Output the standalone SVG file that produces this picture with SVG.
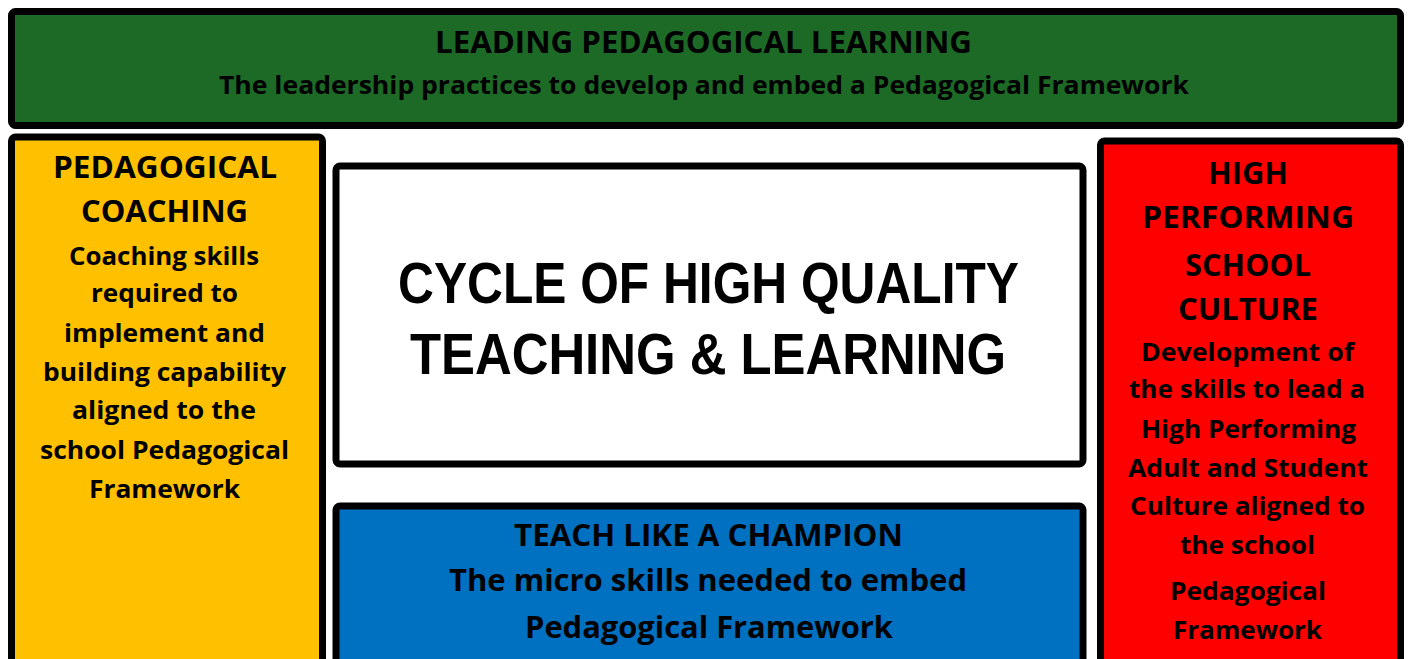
<svg xmlns="http://www.w3.org/2000/svg" width="1409" height="659" viewBox="0 0 1409 659">
<style>
.box{stroke:#000;stroke-width:7;}
.t{font-family:"Open Sans","Noto Sans","Liberation Sans",sans-serif;font-weight:700;fill:#000;text-anchor:middle;}
.h{font-size:31px;}
.b{font-size:25px;}
.big{font-family:"Liberation Sans Narrow","Liberation Sans",Arial,sans-serif;font-weight:700;font-size:58px;fill:#000;text-anchor:middle;}
</style>
<rect width="1409" height="659" fill="#fff"/>
<g id="leading">
<rect class="box" x="11.5" y="11.5" width="1389" height="114" rx="4" fill="#1C6A25"/>
<text class="t h" x="703.5" y="53" textLength="537" lengthAdjust="spacingAndGlyphs">LEADING PEDAGOGICAL LEARNING</text>
<text class="t b" x="704" y="94" textLength="970" lengthAdjust="spacingAndGlyphs">The leadership practices to develop and embed a Pedagogical Framework</text>
</g>
<g id="coaching">
<rect class="box" x="11.5" y="137" width="311" height="540" rx="4" fill="#FFC000"/>
<text class="t h" x="165" y="178" textLength="224" lengthAdjust="spacingAndGlyphs">PEDAGOGICAL</text>
<text class="t h" x="164.5" y="222" textLength="167" lengthAdjust="spacingAndGlyphs">COACHING</text>
<text class="t b" x="164" y="265" textLength="190" lengthAdjust="spacingAndGlyphs">Coaching skills</text>
<text class="t b" x="164.5" y="302" textLength="147" lengthAdjust="spacingAndGlyphs">required to</text>
<text class="t b" x="164.5" y="342" textLength="201" lengthAdjust="spacingAndGlyphs">implement and</text>
<text class="t b" x="164.5" y="381" textLength="243" lengthAdjust="spacingAndGlyphs">building capability</text>
<text class="t b" x="164" y="419" textLength="184" lengthAdjust="spacingAndGlyphs">aligned to the</text>
<text class="t b" x="164.5" y="459" textLength="249" lengthAdjust="spacingAndGlyphs">school Pedagogical</text>
<text class="t b" x="164.5" y="498" textLength="151" lengthAdjust="spacingAndGlyphs">Framework</text>
</g>
<g id="cycle">
<rect class="box" x="336" y="166" width="747" height="298" rx="4" fill="#fff"/>
<text class="big" x="708.5" y="303" textLength="621" lengthAdjust="spacingAndGlyphs">CYCLE OF HIGH QUALITY</text>
<text class="big" x="708" y="374" textLength="596" lengthAdjust="spacingAndGlyphs">TEACHING &amp; LEARNING</text>
</g>
<g id="champion">
<rect class="box" x="336" y="506" width="747" height="180" rx="4" fill="#0070C0"/>
<text class="t h" x="708.5" y="546" textLength="389" lengthAdjust="spacingAndGlyphs">TEACH LIKE A CHAMPION</text>
<text class="t h" x="708" y="591" textLength="518" lengthAdjust="spacingAndGlyphs">The micro skills needed to embed</text>
<text class="t h" x="709" y="638" textLength="368" lengthAdjust="spacingAndGlyphs">Pedagogical Framework</text>
</g>
<g id="culture">
<rect class="box" x="1100.5" y="141" width="300" height="540" rx="4" fill="#FF0000"/>
<text class="t h" x="1248" y="184" textLength="80" lengthAdjust="spacingAndGlyphs">HIGH</text>
<text class="t h" x="1248" y="228" textLength="212" lengthAdjust="spacingAndGlyphs">PERFORMING</text>
<text class="t h" x="1248" y="276" textLength="126" lengthAdjust="spacingAndGlyphs">SCHOOL</text>
<text class="t h" x="1248" y="320" textLength="140" lengthAdjust="spacingAndGlyphs">CULTURE</text>
<text class="t b" x="1247.5" y="361" textLength="213" lengthAdjust="spacingAndGlyphs">Development of</text>
<text class="t b" x="1247" y="398" textLength="236" lengthAdjust="spacingAndGlyphs">the skills to lead a</text>
<text class="t b" x="1248.5" y="438" textLength="215" lengthAdjust="spacingAndGlyphs">High Performing</text>
<text class="t b" x="1248" y="477" textLength="240" lengthAdjust="spacingAndGlyphs">Adult and Student</text>
<text class="t b" x="1247.5" y="515" textLength="235" lengthAdjust="spacingAndGlyphs">Culture aligned to</text>
<text class="t b" x="1247.5" y="554" textLength="135" lengthAdjust="spacingAndGlyphs">the school</text>
<text class="t b" x="1248" y="600" textLength="156" lengthAdjust="spacingAndGlyphs">Pedagogical</text>
<text class="t b" x="1247.5" y="639" textLength="149" lengthAdjust="spacingAndGlyphs">Framework</text>
</g>
<g id="connectors"></g>
</svg>
